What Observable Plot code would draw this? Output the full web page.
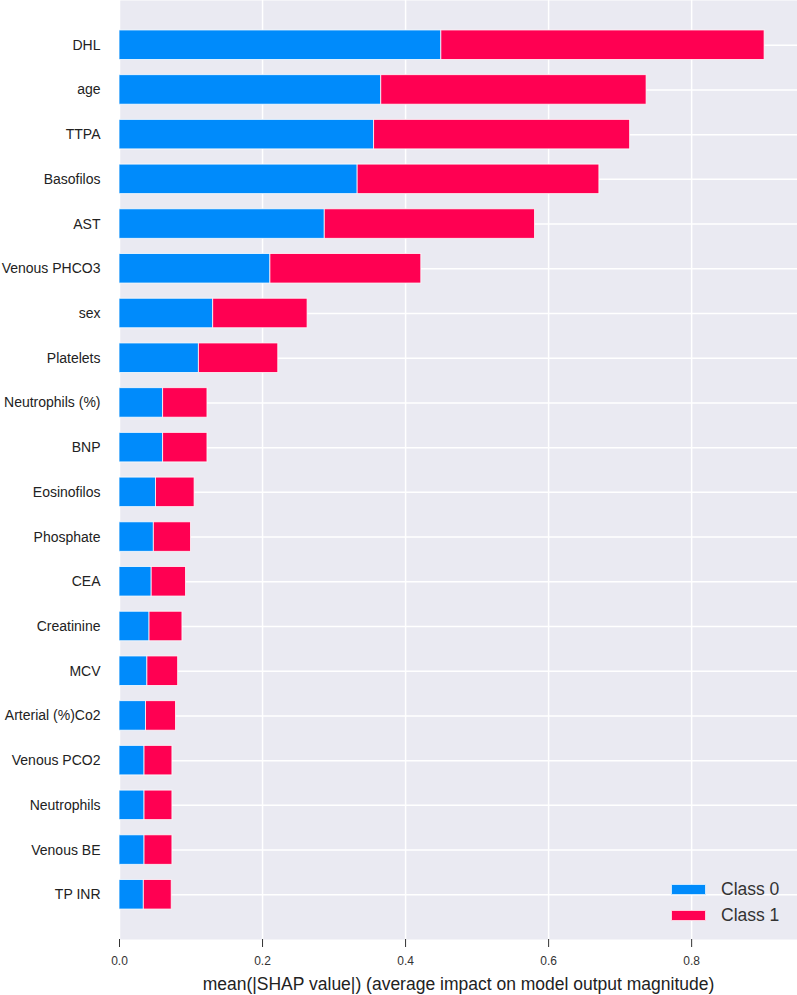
<!DOCTYPE html>
<html>
<head>
<meta charset="utf-8">
<script src="https://cdn.jsdelivr.net/npm/d3@7"></script>
<script src="https://cdn.jsdelivr.net/npm/@observablehq/plot@0.6"></script>
<style>
  html, body { margin: 0; padding: 0; background: #fff; }
  #wrap { position: relative; width: 797px; height: 995px; font-family: "Liberation Sans", Arial, sans-serif; }
  #legend { position: absolute; left: 671px; top: 876px; }
  .row { display: flex; align-items: center; height: 26px; }
  .sw { width: 35px; height: 11px; box-sizing: border-box; border: 1px solid rgba(255,255,255,0.8); margin-right: 15px; }
  .lab { font-size: 17.5px; color: #333; }
</style>
</head>
<body>
<div id="wrap"></div>
<script>
const features = ["DHL","age","TTPA","Basofilos","AST","Venous PHCO3","sex","Platelets","Neutrophils (%)","BNP","Eosinofilos","Phosphate","CEA","Creatinine","MCV","Arterial (%)Co2","Venous PCO2","Neutrophils","Venous BE","TP INR"];
const class0 = [0.450,0.366,0.356,0.333,0.287,0.211,0.131,0.111,0.061,0.061,0.051,0.048,0.045,0.042,0.039,0.037,0.035,0.035,0.035,0.034];
const class1 = [0.452,0.371,0.358,0.338,0.294,0.211,0.132,0.111,0.062,0.062,0.054,0.052,0.048,0.046,0.043,0.042,0.039,0.039,0.039,0.039];
const classes = ["Class 0", "Class 1"];
const colors = ["#008bfb", "#ff0052"];
const xTicks = [0, 0.2, 0.4, 0.6, 0.8];
const xLabel = "mean(|SHAP value|) (average impact on model output magnitude)";

const data = [];
features.forEach((f, i) => {
  data.push({feature: f, cls: classes[0], value: class0[i]});
  data.push({feature: f, cls: classes[1], value: class1[i]});
});

const chart = Plot.plot({
  width: 797,
  height: 995,
  marginLeft: 119,
  marginRight: 0,
  marginTop: 0,
  marginBottom: 56,
  style: {fontFamily: "'Liberation Sans', Arial, sans-serif", background: "#fff"},
  x: {domain: [0, 0.948]},
  y: {domain: features, paddingInner: 0.34, paddingOuter: 0.67, round: false},
  color: {domain: classes, range: colors},
  marks: [
    Plot.frame({fill: "#eaeaf2", stroke: null}),
    Plot.gridX(xTicks, {stroke: "white", strokeOpacity: 1, strokeWidth: 1.5}),
    Plot.gridY(features, {stroke: "white", strokeOpacity: 1, strokeWidth: 1.5}),
    Plot.barX(data, {x: "value", y: "feature", fill: "cls", stroke: "white", strokeWidth: 0.9, strokeOpacity: 0.85}),
    Plot.axisX(xTicks, {
      tickFormat: d3.format(".1f"), tickSize: 8, tickPadding: 9, fontSize: 12,
      stroke: "#333", color: "#333", label: null
    }),
    Plot.text([xLabel], {frameAnchor: "bottom", dy: 50, lineAnchor: "bottom", fontSize: 17.5, fill: "#222", text: d => d}),
    Plot.axisY({tickSize: 0, tickPadding: 19, fontSize: 14, color: "#222", label: null})
  ]
});
document.getElementById("wrap").appendChild(chart);

const legend = document.createElement("div");
legend.id = "legend";
classes.forEach((c, i) => {
  const row = document.createElement("div");
  row.className = "row";
  const sw = document.createElement("div");
  sw.className = "sw";
  sw.style.background = colors[i];
  const lab = document.createElement("span");
  lab.className = "lab";
  lab.textContent = c;
  row.appendChild(sw);
  row.appendChild(lab);
  legend.appendChild(row);
});
document.getElementById("wrap").appendChild(legend);
</script>
</body>
</html>
